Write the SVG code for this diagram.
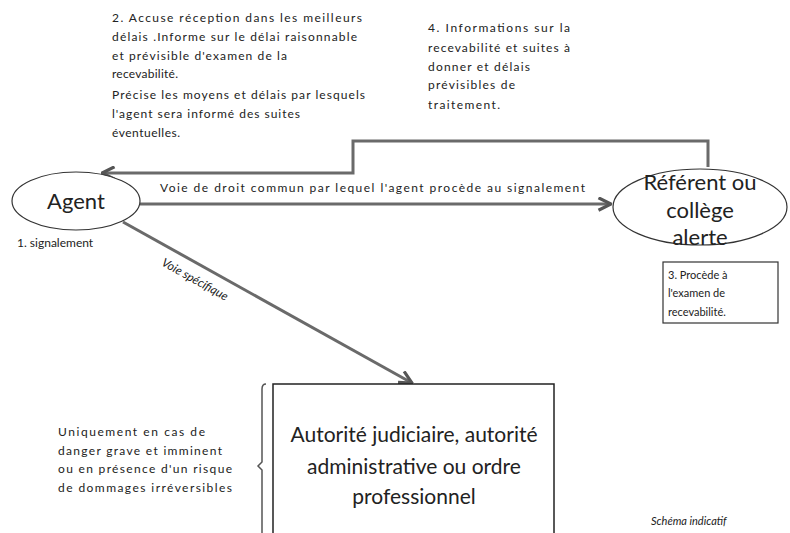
<svg xmlns="http://www.w3.org/2000/svg" width="790" height="533" viewBox="0 0 790 533">
<style>
.t{font-family:Lato,"Liberation Sans",sans-serif;fill:#222}
.s{font-size:12px}
.big{font-size:22px}
.node{fill:#fff;stroke:#333;stroke-width:1.2}
.conn{fill:none;stroke:#6a6a6a;stroke-width:3}
</style>
<defs>
<marker id="ah" viewBox="0 0 12 12" refX="11" refY="6" markerWidth="5" markerHeight="5" orient="auto" markerUnits="strokeWidth">
<polyline points="1,1 11,6 1,11" fill="none" stroke="#555" stroke-width="2.5"/>
</marker>
</defs>
<rect width="790" height="533" fill="#fff"/>

<g id="connectors">
<path class="conn" d="M708,167 V141 H353 V173 H102" marker-end="url(#ah)"/>
<path class="conn" d="M140,204 H611" marker-end="url(#ah)"/>
<path class="conn" d="M123,222 L412,383" marker-end="url(#ah)"/>
<text class="t s" x="160" y="192" textLength="425" lengthAdjust="spacing">Voie de droit commun par lequel l'agent procède au signalement</text>
<text class="t" font-size="12" font-style="italic" transform="translate(193,283) rotate(29)" text-anchor="middle">Voie spécifique</text>
</g>

<g id="agent">
<ellipse class="node" cx="76" cy="201" rx="64" ry="29"/>
<text class="t big" x="76" y="209" text-anchor="middle">Agent</text>
<text class="t s" x="17" y="247">1. signalement</text>
</g>

<g id="referent">
<ellipse class="node" cx="700" cy="207" rx="87" ry="38"/>
<text class="t big" x="700" y="190" text-anchor="middle">Référent ou</text>
<text class="t big" x="700" y="218" text-anchor="middle">collège</text>
<text class="t big" x="700" y="245" text-anchor="middle">alerte</text>
</g>

<g id="examen">
<rect x="663" y="262" width="115" height="61" fill="#fff" stroke="#333" stroke-width="1.2"/>
<text class="t" font-size="11" x="668" y="279">3. Procède  à</text>
<text class="t" font-size="11" x="668" y="297">l'examen de</text>
<text class="t" font-size="11" x="668" y="316">recevabilité.</text>
</g>

<g id="autorite">
<rect x="273" y="384" width="281" height="160" fill="#fff" stroke="#222" stroke-width="1.5"/>
<text class="t" font-size="21" x="414" y="442" text-anchor="middle">Autorité judiciaire, autorité</text>
<text class="t" font-size="21" x="414" y="474" text-anchor="middle">administrative ou ordre</text>
<text class="t" font-size="21" x="414" y="504" text-anchor="middle">professionnel</text>
</g>

<g id="condition">
<path d="M266,384 Q262,384 262,389 V462 L258,466 L262,470 V540" fill="none" stroke="#555" stroke-width="1.5"/>
<text class="t s" x="58" y="436" textLength="147" lengthAdjust="spacing">Uniquement  en cas de</text>
<text class="t s" x="58" y="455" textLength="164" lengthAdjust="spacing">danger grave et imminent</text>
<text class="t s" x="58" y="473" textLength="174" lengthAdjust="spacing">ou en présence d'un risque</text>
<text class="t s" x="58" y="492" textLength="174" lengthAdjust="spacing">de dommages irréversibles</text>
</g>

<g id="note2">
<text class="t s" x="112" y="22" textLength="250" lengthAdjust="spacing">2. Accuse réception  dans les meilleurs</text>
<text class="t s" x="112" y="41" textLength="245" lengthAdjust="spacing">délais .Informe sur le délai raisonnable</text>
<text class="t s" x="112" y="60" textLength="175" lengthAdjust="spacing">et prévisible d'examen  de la</text>
<text class="t s" x="112" y="78" textLength="66" lengthAdjust="spacing">recevabilité.</text>
<text class="t s" x="112" y="99" textLength="253" lengthAdjust="spacing">Précise les moyens  et délais par lesquels</text>
<text class="t s" x="112" y="118" textLength="188" lengthAdjust="spacing">l'agent sera informé  des suites</text>
<text class="t s" x="112" y="137" textLength="68" lengthAdjust="spacing">éventuelles.</text>
</g>

<g id="note4">
<text class="t s" x="428" y="32" textLength="142" lengthAdjust="spacing">4. Informations sur la</text>
<text class="t s" x="428" y="52" textLength="142" lengthAdjust="spacing">recevabilité et suites à</text>
<text class="t s" x="428" y="71" textLength="102" lengthAdjust="spacing">donner  et délais</text>
<text class="t s" x="428" y="89" textLength="87" lengthAdjust="spacing">prévisibles  de</text>
<text class="t s" x="428" y="109" textLength="72" lengthAdjust="spacing">traitement.</text>
</g>

<text class="t" font-size="11" font-style="italic" x="651" y="525">Schéma indicatif</text>
</svg>
